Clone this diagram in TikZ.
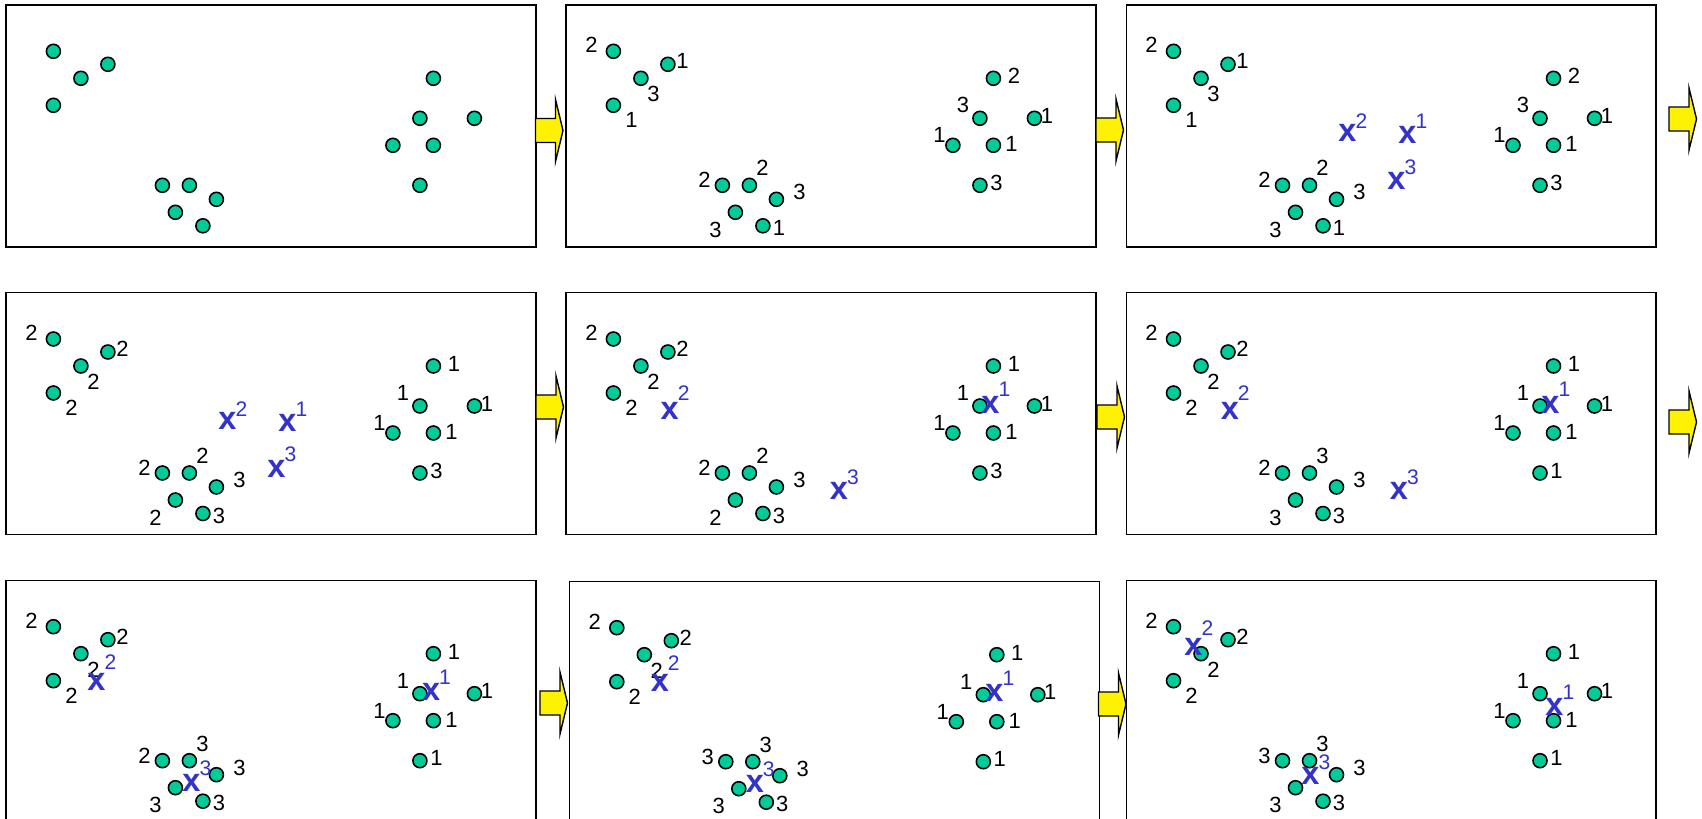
\documentclass[tikz,border=0pt]{standalone}
\usepackage{fontspec}
\setmainfont{Liberation Sans}
\usetikzlibrary{calc,positioning}
\definecolor{dotgreen}{RGB}{0,204,153}
\definecolor{meanblue}{RGB}{51,51,204}
\tikzset{
    panel/.style={draw=black, line width=0.8pt, fill=white, anchor=north west,
        inner sep=0pt, minimum width=10.6cm, minimum height=4.84cm},
    datapt/.style={circle, draw=black, fill=dotgreen, line width=0.9pt,
        inner sep=0pt, minimum size=0.28cm},
    ptlabel/.style={inner sep=0pt, font=\fontsize{12.5}{12.5}\selectfont},
    meanx/.style={inner sep=0pt, text=meanblue, font=\fontsize{18.5}{18.5}\selectfont\bfseries},
    meansup/.style={inner sep=0pt, text=meanblue, font=\fontsize{12}{12}\selectfont},
    flowarrow/.style={draw=black, line width=0.8pt, fill=yellow, line join=miter}
}
\newcommand{\datapanel}{%
    \node[panel] (box) at (0,0) {};
    \foreach \i/\x/\y in {1/48/47, 2/75.5/74, 3/102.5/60, 4/48/101,
        5/157/181, 6/184/181, 7/211/195, 8/170/208, 9/197.5/221.5,
        10/428/74, 11/414.5/114, 12/469/114, 13/387.5/141, 14/428/141, 15/414.5/181}{
        \node[datapt] (d\i) at (\x,\y) {};
    }
}
\newcommand{\tags}[1]{%
    \foreach \i/\dx/\dy in {1/-22/-6, 2/12.5/16, 3/14.5/-3, 4/18/15,
        5/-18/-5, 6/13/-17, 7/23/-7, 8/-20/17.5, 9/16/2,
        10/20.5/-2, 11/-17/-13, 12/12.5/-2.5, 13/-13.5/-10, 14/18/-1, 15/16.5/-2.5}{
        \pgfmathtruncatemacro{\tagnum}{{#1}[\i-1]}
        \node[ptlabel] (t\i) at ($(d\i)+(\dx,\dy)$) {\tagnum};
    }
}
\newcommand{\centroid}[5]{%
    \node[meanx] (#1) at (#2,#3) {x};
    \node[meansup] (#1s) at ($(#1.center)+(14,#5)$) {#4};
}
\newcommand{\flowstep}[2]{%
    \draw[flowarrow] (#1,#2-12) -- ++(20,0) -- ++(0,-19) -- (#1+27.5,#2)
        -- (#1+20,#2+31) -- ++(0,-19) -- (#1,#2+12) -- cycle;
}

\begin{document}
\begin{tikzpicture}[x=0.02cm, y=-0.02cm]
    \useasboundingbox (0,0) rectangle (1702,818);
    \clip (0,0) rectangle (1702,818);

    \begin{scope}[shift={(5.4,4.3)}, name prefix=p1-]
        \datapanel
    \end{scope}
    \begin{scope}[shift={(565.4,4.3)}, name prefix=p2-]
        \datapanel
        \tags{2,3,1,1,2,2,3,3,1,2,3,1,1,1,3}
    \end{scope}
    \begin{scope}[shift={(1125.5,4.3)}, name prefix=p3-]
        \datapanel
        \tags{2,3,1,1,2,2,3,3,1,2,3,1,1,1,3}
        \centroid{c2}{222}{129}{2}{-12}
        \centroid{c1}{282}{131}{1}{-14}
        \centroid{c3}{271}{176.5}{3}{-14}
    \end{scope}

    \begin{scope}[shift={(5.4,292)}, name prefix=p4-]
        \datapanel
        \tags{2,2,2,2,2,2,3,2,3,1,1,1,1,1,3}
        \centroid{c2}{222}{129}{2}{-12}
        \centroid{c1}{282}{131}{1}{-14}
        \centroid{c3}{271}{176.5}{3}{-14}
    \end{scope}
    \begin{scope}[shift={(565.4,292)}, name prefix=p5-]
        \datapanel
        \tags{2,2,2,2,2,2,3,2,3,1,1,1,1,1,3}
        \centroid{c2}{104.3}{119}{2}{-18}
        \centroid{c1}{425}{112.5}{1}{-15}
        \centroid{c3}{273.5}{199}{3}{-14}
    \end{scope}
    \begin{scope}[shift={(1125.5,292)}, name prefix=p6-]
        \datapanel
        \tags{2,2,2,2,2,3,3,3,3,1,1,1,1,1,1}
        \centroid{c2}{104.3}{119}{2}{-18}
        \centroid{c1}{425}{112.5}{1}{-15}
        \centroid{c3}{273.5}{199}{3}{-14}
    \end{scope}

    \begin{scope}[shift={(5.4,579.7)}, name prefix=p7-]
        \datapanel
        \tags{2,2,2,2,2,3,3,3,3,1,1,1,1,1,1}
        \centroid{c2}{91}{102}{2}{-20}
        \centroid{c1}{425.7}{112.7}{1}{-15}
        \centroid{c3}{186}{203}{3}{-14}
    \end{scope}
    \begin{scope}[shift={(568.8,580.7)}, name prefix=p8-]
        \datapanel
        \tags{2,2,2,2,3,3,3,3,3,1,1,1,1,1,1}
        \centroid{c2}{91}{102}{2}{-20}
        \centroid{c1}{425.7}{112.7}{1}{-15}
        \centroid{c3}{186}{203}{3}{-14}
    \end{scope}
    \begin{scope}[shift={(1125.5,579.7)}, name prefix=p9-]
        \datapanel
        \tags{2,2,2,2,3,3,3,3,3,1,1,1,1,1,1}
        \centroid{c2}{68}{67.5}{2}{-19}
        \centroid{c1}{429}{127.5}{1}{-15}
        \centroid{c3}{185}{196.5}{3}{-14}
    \end{scope}

    \flowstep{535.5}{130.5}
    \flowstep{1096}{130}
    \flowstep{1669}{119}
    \flowstep{536}{407}
    \flowstep{1097}{417}
    \flowstep{1669}{422}
    \flowstep{540}{703}
    \flowstep{1098.5}{704}
\end{tikzpicture}
\end{document}
